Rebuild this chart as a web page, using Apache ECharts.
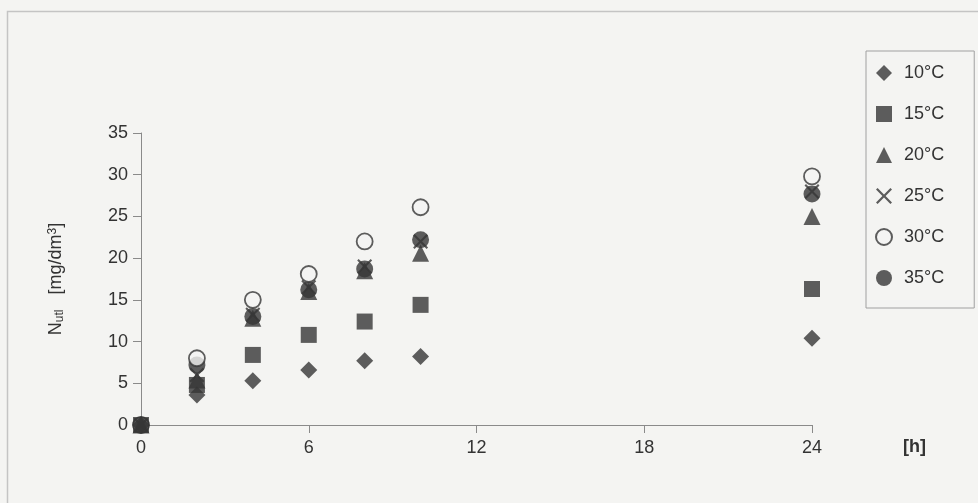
<!DOCTYPE html>
<html><head><meta charset="utf-8">
<script src="https://cdn.jsdelivr.net/npm/echarts@6/dist/echarts.min.js"></script>
<style>html,body{margin:0;padding:0;background:#f4f4f2;}#c{width:978px;height:503px;}</style>
</head><body><div id="c"></div>
<script>
var hours = [0, 2, 4, 6, 8, 10, 24];
var seriesNames = ['10°C', '15°C', '20°C', '25°C', '30°C', '35°C'];
var s10 = [0, 3.6, 5.3, 6.6, 7.7, 8.2, 10.4];
var s15 = [0, 4.8, 8.4, 10.8, 12.4, 14.4, 16.3];
var s20 = [0, 5.4, 12.8, 16.0, 18.5, 20.6, 25.0];
var s25 = [0, 6.0, 13.2, 16.5, 19.0, 22.0, 28.0];
var s30 = [0, 8.0, 15.0, 18.1, 22.0, 26.1, 29.8];
var s35 = [0, 7.2, 13.0, 16.2, 18.7, 22.2, 27.7];
var xTicks = [0, 6, 12, 18, 24];
var yTicks = [0, 5, 10, 15, 20, 25, 30, 35];

var dark = '#363636';
var ff = 'Liberation Sans, Arial, sans-serif';
var crossPath = 'path://M0,1L1,0L5,4L9,0L10,1L6,5L10,9L9,10L5,6L1,10L0,9L4,5Z';
function pts(vals){ return hours.map(function(h,i){ return [h, vals[i]]; }); }
var styles = [
  {symbol:'diamond', size:17, itemStyle:{color:dark}},
  {symbol:'rect', size:16, itemStyle:{color:dark}},
  {symbol:'triangle', size:17, itemStyle:{color:dark}},
  {symbol:crossPath, size:15, itemStyle:{color:dark}},
  {symbol:'circle', size:16, itemStyle:{color:'#f4f4f2', borderColor:dark, borderWidth:1.8}},
  {symbol:'circle', size:17, itemStyle:{color:dark}}
];
var allVals = [s10, s15, s20, s25, s30, s35];
var series = seriesNames.map(function(n, k){
  return {name:n, type:'scatter', data:pts(allVals[k]), symbol:styles[k].symbol,
    symbolSize:styles[k].size, itemStyle:styles[k].itemStyle, z: 10 - k};
});

var chart = echarts.init(document.getElementById('c'), null, {renderer:'canvas'});
chart.setOption({
  backgroundColor:'#f4f4f2',
  animation:false,
  textStyle:{fontFamily:ff},
  graphic:[{type:'rect', shape:{x:7.5, y:11.5, width:975, height:500}, style:{fill:'none', stroke:'#c4c4c4', lineWidth:1.5}, silent:true}],
  grid:{left:141, right:166, top:133, bottom:78},
  legend:{orient:'vertical', left:866, top:51, padding:[13,30,21,9], itemGap:23,
    itemWidth:16, itemHeight:16, borderColor:'#a0a0a0', borderWidth:1, backgroundColor:'#f4f4f2',
    textStyle:{fontSize:18, color:'#333', fontFamily:ff, padding:[0,0,0,7]},
    data:seriesNames},
  xAxis:{type:'value', min:0, max:24, interval:6,
    name:'[h]', nameLocation:'end', nameGap:91,
    nameTextStyle:{fontSize:18, fontWeight:'bold', color:'#333', verticalAlign:'top', padding:[13,0,0,0], fontFamily:ff},
    axisLine:{lineStyle:{color:'#8a8a8a'}}, axisTick:{length:8, lineStyle:{color:'#8a8a8a'}},
    axisLabel:{fontSize:18, color:'#333', margin:14}, splitLine:{show:false}},
  yAxis:{type:'value', min:0, max:35, interval:5,
    name:'{n|N}{s|utl}{n|   [mg/dm}{p|3}{n|]}', nameLocation:'middle', nameGap:75, nameRotate:90,
    nameTextStyle:{rich:{
      n:{fontSize:18, color:'#333', fontFamily:ff},
      s:{fontSize:12, color:'#333', verticalAlign:'bottom', padding:[7,0,0,0], fontFamily:ff},
      p:{fontSize:12, color:'#333', verticalAlign:'top', padding:[0,0,7,0], fontFamily:ff}}},
    axisLine:{show:true, lineStyle:{color:'#8a8a8a'}}, axisTick:{show:true, length:8, lineStyle:{color:'#8a8a8a'}},
    axisLabel:{fontSize:18, color:'#333', margin:13}, splitLine:{show:false}},
  series:series
});
</script></body></html>
